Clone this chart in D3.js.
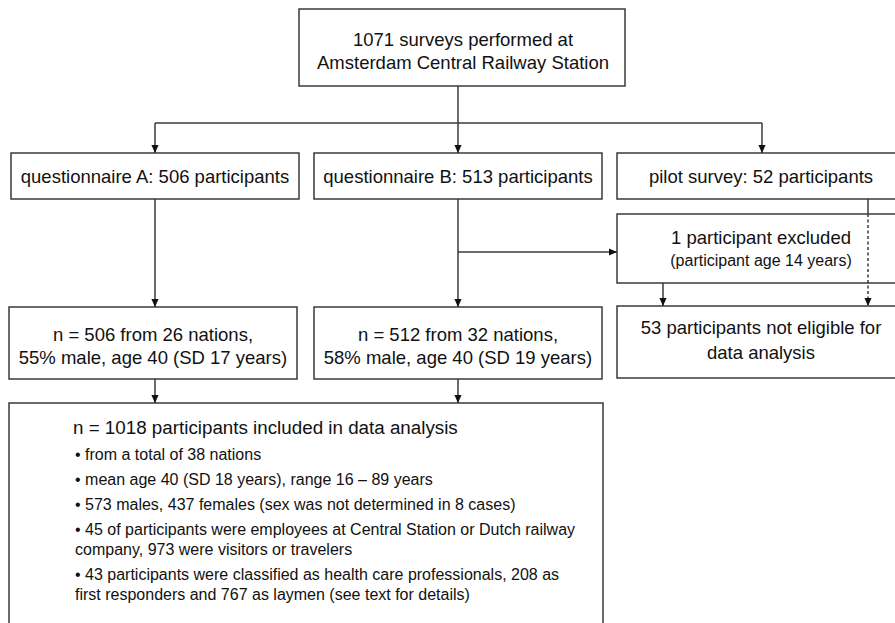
<!DOCTYPE html>
<html><head><meta charset="utf-8">
<script src="https://cdn.jsdelivr.net/npm/d3@7"></script>
<style>body{margin:0;background:#fff}svg{display:block}text{font-family:"Liberation Sans",Arial,sans-serif;fill:#111}</style>
</head><body>
<svg id="c" width="895" height="623"></svg>
<script>
// ---- data (texts and counts) ----
const boxIds = ["top","qA","qB","pilot","excl","notElig","nA","nB","total"];
const boxLines = [
  ["1071 surveys performed at","Amsterdam Central Railway Station"],
  ["questionnaire A: 506 participants"],
  ["questionnaire B: 513 participants"],
  ["pilot survey: 52 participants"],
  ["1 participant excluded","(participant age 14 years)"],
  ["53 participants not eligible for","data analysis"],
  ["n = 506 from 26 nations,","55% male, age 40 (SD 17 years)"],
  ["n = 512 from 32 nations,","58% male, age 40 (SD 19 years)"],
  ["n = 1018 participants included in data analysis"]
];
const totalTitle = "n = 1018 participants included in data analysis";
const bulletLines = [
  ["• from a total of 38 nations"],
  ["• mean age 40 (SD 18 years), range 16 – 89 years"],
  ["• 573 males, 437 females (sex was not determined in 8 cases)"],
  ["• 45 of participants were employees at Central Station or Dutch railway","company, 973 were visitors or travelers"],
  ["• 43 participants were classified as health care professionals, 208 as","first responders and 767 as laymen (see text for details)"]
];
const links = [["top","qA"],["top","qB"],["top","pilot"],["qA","nA"],["qB","nB"],["qB","excl"],["excl","notElig"],["pilot","notElig"],["nA","total"],["nB","total"]];

// ---- layout ----
const F = 18.5, S = 16;
const layout = {
  top:{x0:299,x1:625,y0:9,y1:86,base:[46,69],fs:[F,F],cx:463},
  qA:{x0:11,x1:299,y0:153,y1:199,base:[183],fs:[F]},
  qB:{x0:314,x1:602,y0:153,y1:199,base:[183],fs:[F]},
  pilot:{x0:617,x1:902,y0:153,y1:199,base:[183],fs:[F],cx:761},
  excl:{x0:617,x1:902,y0:214,y1:283,base:[244,266],fs:[F,S],cx:761},
  notElig:{x0:617,x1:902,y0:306,y1:378,base:[334,359],fs:[F,F],cx:761},
  nA:{x0:9,x1:297,y0:307,y1:379,base:[341,364],fs:[F,F]},
  nB:{x0:314,x1:602,y0:307,y1:379,base:[341,364],fs:[F,F]},
  total:{x0:9,x1:603,y0:403,y1:640}
};

const svg = d3.select("#c");
const stroke = "#3a3a3a";
svg.append("defs").append("marker").attr("id","ah").attr("viewBox","0 0 10 10")
  .attr("refX",10).attr("refY",5).attr("markerWidth",8).attr("markerHeight",8)
  .attr("markerUnits","userSpaceOnUse").attr("orient","auto")
  .append("path").attr("d","M0,0.5L10,5L0,9.5Z").attr("fill","#111");

// boxes
const boxes = boxIds.map((id,i)=>({id,lines:boxLines[i],...layout[id]}));
const g = svg.append("g");
g.selectAll("rect").data(boxes).join("rect")
  .attr("x",d=>d.x0).attr("y",d=>d.y0).attr("width",d=>d.x1-d.x0).attr("height",d=>d.y1-d.y0)
  .attr("fill","#fff").attr("stroke",stroke).attr("stroke-width",1.5);

boxes.filter(d=>d.id!=="total").forEach(b=>{
  const cx = b.cx!==undefined ? b.cx : (b.x0+b.x1)/2;
  b.lines.forEach((t,j)=>{
    g.append("text").attr("x",cx).attr("y",b.base[j]).attr("text-anchor","middle")
      .attr("font-size",b.fs[j]).text(t);
  });
});

// total box text
g.append("text").attr("x",73).attr("y",434).attr("font-size",18.8).text(totalTitle);
let y = 460;
bulletLines.forEach((para,i)=>{
  para.forEach((t,j)=>{
    g.append("text").attr("x",75).attr("y",y).attr("font-size",S).text(t);
    y += (j<para.length-1)?20:25;
  });
});

// connectors
const L = d3.line();
const xA = 155, xB = 458, xP = 762, xBus = 123;
function path(pts, opts={}) {
  const p = svg.append("path").attr("d",L(pts)).attr("fill","none").attr("stroke",stroke).attr("stroke-width",1.5);
  if (opts.arrow) p.attr("marker-end","url(#ah)");
  if (opts.dash) p.attr("stroke-dasharray","3,2.5");
  return p;
}
const lb = id=>layout[id];
path([[xB,lb("top").y1],[xB,xBus]]);
path([[xA,xBus],[xP,xBus]]);
links.forEach(([s,t])=>{
  if (s==="top") {
    const x = t==="qA"?xA:t==="qB"?xB:xP;
    path([[x,xBus],[x,lb(t).y0]],{arrow:true});
  } else if (s==="qB" && t==="excl") {
    path([[xB,252],[lb(t).x0,252]],{arrow:true});
  } else if (s==="excl") {
    path([[663,lb(s).y1],[663,lb(t).y0]],{arrow:true});
  } else if (s==="pilot") {
    path([[868,lb(s).y1],[868,lb("excl").y0]]);
    path([[868,lb("excl").y0],[868,lb(t).y0]],{arrow:true,dash:true});
  } else {
    const x = (s==="qA"||s==="nA")?xA:xB;
    path([[x,lb(s).y1],[x,lb(t).y0]],{arrow:true});
  }
});
</script>
</body></html>
